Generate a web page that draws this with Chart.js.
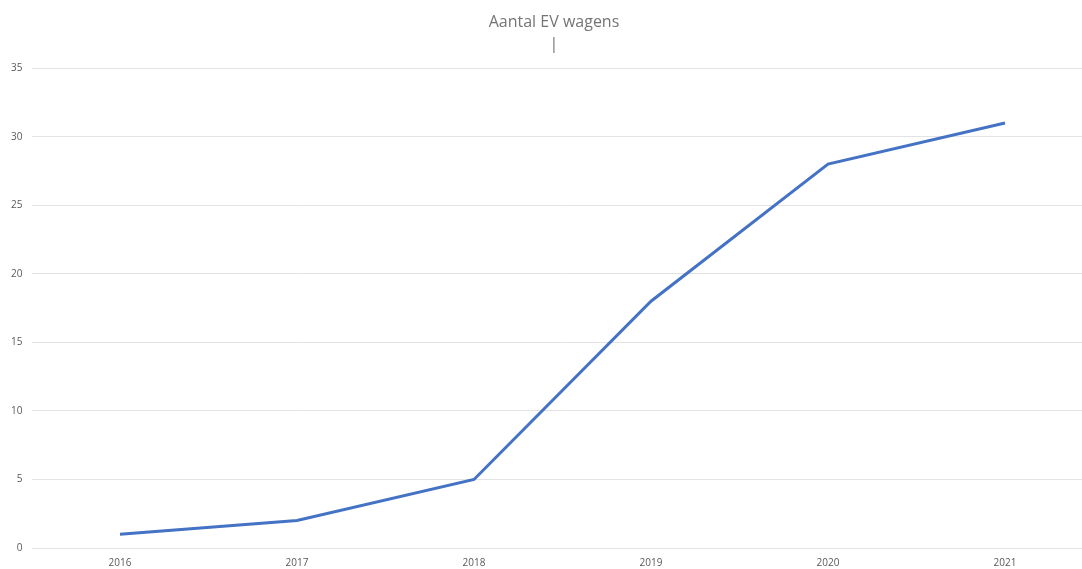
<!DOCTYPE html>
<html lang="nl">
<head>
  <meta charset="UTF-8" />
  <title>Aantal EV wagens</title>
  <script src="https://cdn.jsdelivr.net/npm/chart.js"></script>
  <style>
    html, body { margin: 0; padding: 0; overflow: hidden; background: #fff; }
    .chart-container { position: absolute; left: 0; top: 0; width: 1108px; height: 569px; }
  </style>
</head>
<body>
  <div class="chart-container">
    <canvas id="lineChart"></canvas>
  </div>

  <script>
    const years = ['2016', '2017', '2018', '2019', '2020', '2021'];
    const evCount = [1, 2, 5, 18, 28, 31];
    const titleLines = ['Aantal EV wagens', '|'];

    // the title in the original sits centred on the whole frame, not on the plot box
    const shiftTitle = {
      id: 'shiftTitle',
      afterLayout(chart) {
        if (chart.titleBlock) chart.titleBlock.left = 14.5;
      }
    };

    const ctx = document.getElementById('lineChart').getContext('2d');

    new Chart(ctx, {
      type: 'line',
      data: {
        labels: years,
        datasets: [{
          label: 'Aantal EV wagens',
          data: evCount,
          borderColor: '#4472C4',
          backgroundColor: '#4472C4',
          borderWidth: 3,
          pointRadius: 0,
          tension: 0,
          fill: false
        }]
      },
      options: {
        responsive: true,
        maintainAspectRatio: false,
        animation: false,
        layout: { padding: { top: 12, left: 0, right: 14.5, bottom: 0 } },
        plugins: {
          legend: { display: false },
          tooltip: { enabled: false },
          title: {
            display: true,
            text: titleLines,
            color: '#757575',
            font: { family: 'Open Sans', size: 16, weight: 'normal', lineHeight: 1.35 },
            padding: { top: 0, bottom: 13 }
          }
        },
        scales: {
          x: {
            offset: true,
            grid: { display: false, drawTicks: false },
            border: { display: false },
            afterFit: scale => { scale.height = 21; },
            ticks: {
              color: '#595959',
              font: { family: 'Open Sans', size: 10 },
              padding: 9,
              maxRotation: 0
            }
          },
          y: {
            min: 0,
            max: 35,
            grid: { color: '#e3e3e3', lineWidth: 1, drawTicks: false },
            border: { display: false },
            afterFit: scale => { scale.width = 31.5; },
            ticks: {
              stepSize: 5,
              color: '#595959',
              font: { family: 'Open Sans', size: 10 },
              padding: 9
            }
          }
        }
      },
      plugins: [shiftTitle]
    });
  </script>
</body>
</html>
